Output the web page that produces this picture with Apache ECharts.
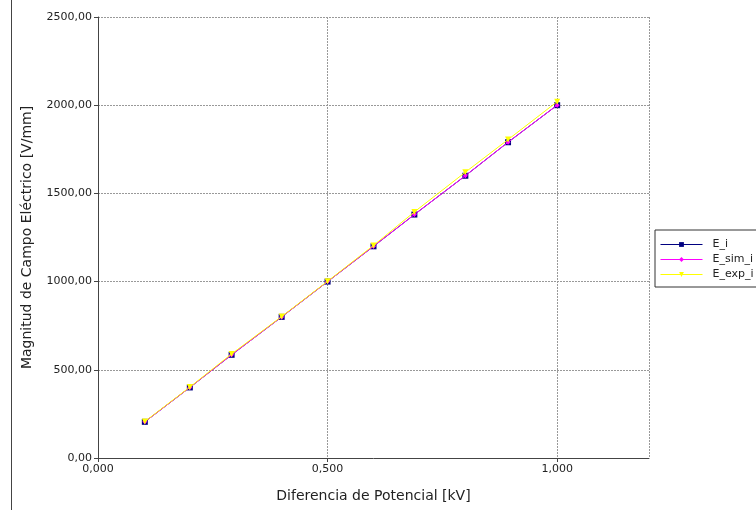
<!DOCTYPE html>
<html>
<head>
<meta charset="utf-8">
<script src="https://cdn.jsdelivr.net/npm/echarts@6/dist/echarts.min.js"></script>
<style>html,body{margin:0;padding:0;background:#fff}#c{width:756px;height:510px}</style>
</head>
<body>
<div id="c"></div>
<script>
var xValues = [0.102, 0.2, 0.291, 0.4, 0.5, 0.6, 0.689, 0.8, 0.893, 1.0];
var E_i = [205, 400, 585, 800, 1000, 1200, 1380, 1600, 1790, 2000];
var E_sim_i = [205, 400, 585, 800, 1000, 1200, 1380, 1600, 1790, 2000];
var E_exp_i = [207, 402, 590, 802, 1002, 1205, 1395, 1620, 1805, 2020];
var seriesNames = ['E_i', 'E_sim_i', 'E_exp_i'];

function pairs(ys){ return xValues.map(function(x,i){ return [x, ys[i]]; }); }
var font = 'DejaVu Sans';
var chart = echarts.init(document.getElementById('c'), null, {renderer:'canvas'});
chart.setOption({
  animation:false,
  textStyle:{fontFamily:font},
  grid:{left:98, right:107, top:17, bottom:52},
  graphic:[{type:'line', shape:{x1:11.5,y1:0,x2:11.5,y2:510}, style:{stroke:'#444', lineWidth:1}}],
  legend:{
    orient:'vertical', left:655, top:230, width:120,
    backgroundColor:'#fff', borderColor:'#333', borderWidth:1, borderRadius:0,
    padding:[9,20,7,5], itemGap:4, itemWidth:42, itemHeight:6,
    lineStyle:{width:1},
    textStyle:{fontFamily:font, fontSize:11, color:'#222', padding:[0,0,0,5]},
    data:seriesNames
  },
  xAxis:{
    type:'value', min:0, max:1.2, interval:0.5,
    name:'Diferencia de Potencial [kV]', nameLocation:'middle', nameGap:31,
    nameTextStyle:{fontFamily:font, fontSize:14, color:'#222'},
    axisLine:{show:true, onZero:false, lineStyle:{color:'#444'}},
    axisTick:{show:true, length:4, lineStyle:{color:'#444'}},
    axisLabel:{fontFamily:font, fontSize:11, color:'#222', margin:6,
      formatter:function(v){ return v.toFixed(3).replace('.',','); },
      showMaxLabel:false},
    splitLine:{show:true, lineStyle:{color:'#999', type:[2,1], width:1}}
  },
  yAxis:{
    type:'value', min:0, max:2500, interval:500,
    name:'Magnitud de Campo Eléctrico [V/mm]', nameLocation:'middle', nameGap:64,
    nameTextStyle:{fontFamily:font, fontSize:14, color:'#222'},
    axisLine:{show:true, onZero:false, lineStyle:{color:'#444'}},
    axisTick:{show:true, length:4, lineStyle:{color:'#444'}},
    axisLabel:{fontFamily:font, fontSize:11, color:'#222', margin:6,
      formatter:function(v){ return v.toFixed(2).replace('.',','); }},
    splitLine:{show:true, lineStyle:{color:'#999', type:[2,1], width:1}}
  },
  series:[
    {name:'E_i', type:'line', data:pairs(E_i), symbol:'rect', symbolSize:6,
      itemStyle:{color:'#000080'}, lineStyle:{color:'#000080', width:1}, z:2},
    {name:'E_sim_i', type:'line', data:pairs(E_sim_i), symbol:'diamond', symbolSize:5,
      itemStyle:{color:'#ff00ff'}, lineStyle:{color:'#ff00ff', width:1}, z:3},
    {name:'E_exp_i', type:'line', data:pairs(E_exp_i), symbol:'triangle', symbolRotate:180, symbolSize:6,
      itemStyle:{color:'#ffff00'}, lineStyle:{color:'#ffff00', width:1}, z:4}
  ]
});
</script>
</body>
</html>
